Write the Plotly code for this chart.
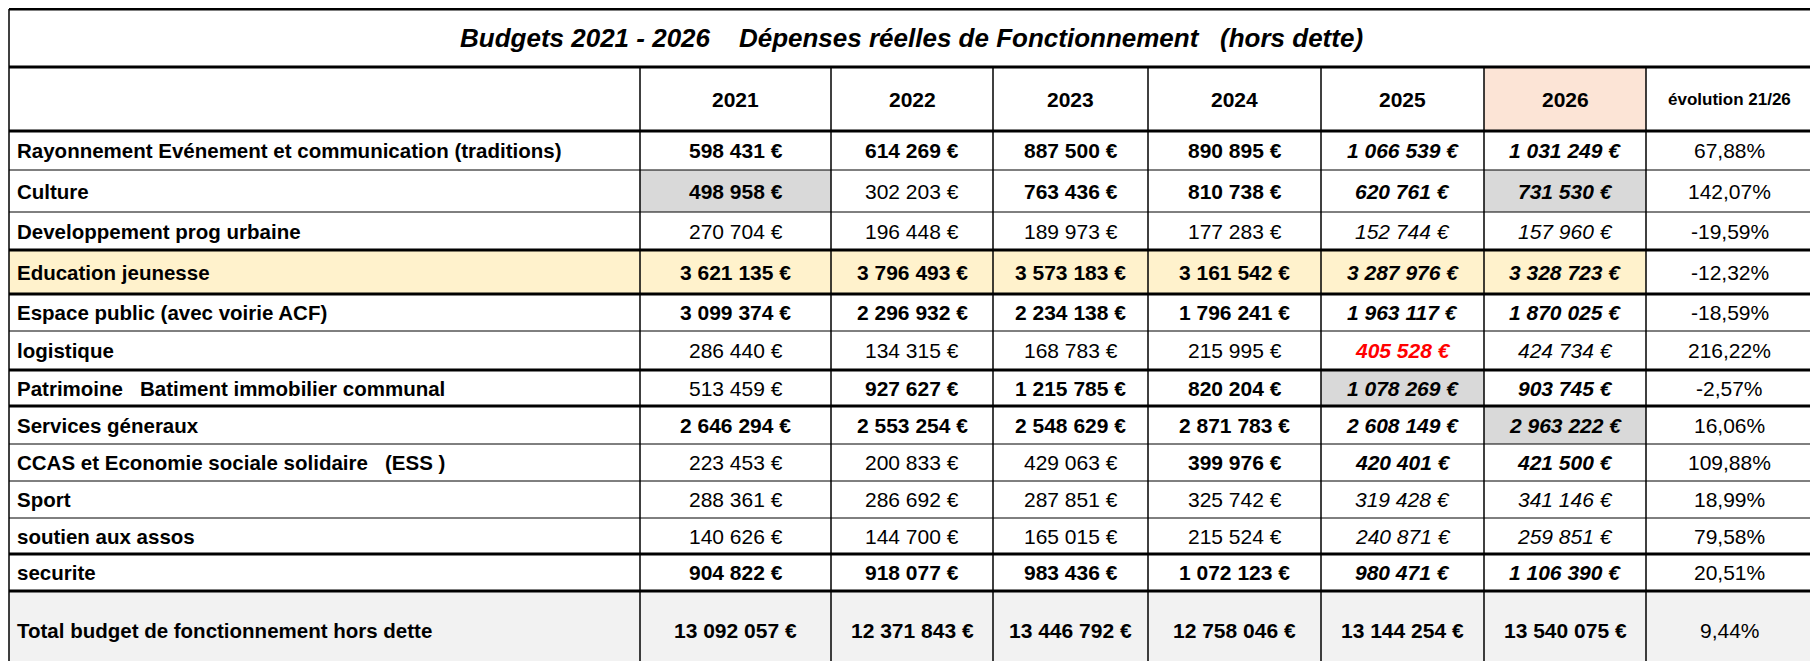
import plotly.graph_objects as go

# table content
title = "Budgets 2021 - 2026    Dépenses réelles de Fonctionnement   (hors dette)"
years = ["2021", "2022", "2023", "2024", "2025", "2026"]
evo_header = "évolution 21/26"
labels = [
    "Rayonnement Evénement et communication (traditions)",
    "Culture",
    "Developpement prog urbaine",
    "Education jeunesse",
    "Espace public (avec voirie ACF)",
    "logistique",
    "Patrimoine   Batiment immobilier communal",
    "Services géneraux",
    "CCAS et Economie sociale solidaire   (ESS )",
    "Sport",
    "soutien aux assos",
    "securite",
    "Total budget de fonctionnement hors dette",
]
values = [
    [598431, 614269, 887500, 890895, 1066539, 1031249],
    [498958, 302203, 763436, 810738, 620761, 731530],
    [270704, 196448, 189973, 177283, 152744, 157960],
    [3621135, 3796493, 3573183, 3161542, 3287976, 3328723],
    [3099374, 2296932, 2234138, 1796241, 1963117, 1870025],
    [286440, 134315, 168783, 215995, 405528, 424734],
    [513459, 927627, 1215785, 820204, 1078269, 903745],
    [2646294, 2553254, 2548629, 2871783, 2608149, 2963222],
    [223453, 200833, 429063, 399976, 420401, 421500],
    [288361, 286692, 287851, 325742, 319428, 341146],
    [140626, 144700, 165015, 215524, 240871, 259851],
    [904822, 918077, 983436, 1072123, 980471, 1106390],
    [13092057, 12371843, 13446792, 12758046, 13144254, 13540075],
]
evolution = ["67,88%", "142,07%", "-19,59%", "-12,32%", "-18,59%", "216,22%", "-2,57%",
             "16,06%", "109,88%", "18,99%", "79,58%", "20,51%", "9,44%"]

# formatting per cell: n normal, b bold, i italic, I bold italic, R bold italic red
styles = ["bbbbII", "bnbbII", "nnnnii", "bbbbII", "bbbbII", "nnnnRi", "nbbbII",
          "bbbbII", "nnnbII", "nnnnii", "nnnnii", "bbbbII", "bbbbbb"]
grey_cells = [(1, 0), (1, 5), (6, 4), (7, 5)]

# layout geometry (pixels, page has an 8px body margin)
W, H = 1818, 661
col_x = [1, 632, 823, 985, 1140, 1313, 1476, 1638, 1805]
row_y = [1, 59, 123, 162, 204, 242, 286, 323, 362, 398, 436, 473, 510, 546, 583, 661]
thick_rows = [1, 59, 123, 242, 286, 362, 398, 546, 583]

def fmt(v):
    return f"{v:,}".replace(",", " ") + " €"

def styled(text, s):
    if s == "b":
        return f"<b>{text}</b>"
    if s == "i":
        return f"<i>{text}</i>"
    if s in "IR":
        return f"<b><i>{text}</i></b>"
    return text

fig = go.Figure()
shapes, ann = [], []
Y = lambda y: H - y

def rect(x0, x1, y0, y1, color):
    shapes.append(dict(type="rect", x0=x0, x1=x1, y0=Y(y0), y1=Y(y1), fillcolor=color,
                       line_width=0, layer="below"))

def text(x, y, t, size=21, color="black", anchor="center"):
    ann.append(dict(x=x, y=Y(y), text=t, showarrow=False, xanchor=anchor, yanchor="middle",
                    font=dict(size=size, color=color, family="Liberation Sans")))

# fills
edu = labels.index("Education jeunesse")
rect(col_x[0], col_x[7], row_y[edu + 2], row_y[edu + 3], "#FFF2CC")
rect(col_x[0], col_x[8], row_y[-2], row_y[-1], "#F2F2F2")
rect(col_x[6], col_x[7], row_y[1], row_y[2], "#FCE4D6")
for r, c in grey_cells:
    rect(col_x[c + 1], col_x[c + 2], row_y[r + 2], row_y[r + 3], "#D9D9D9")

# grid lines
for y in row_y[:-1]:
    shapes.append(dict(type="line", x0=col_x[0], x1=col_x[-1], y0=Y(y), y1=Y(y),
                       line=dict(color="black", width=3 if y in thick_rows else 1)))
for i, x in enumerate(col_x):
    y0 = row_y[0] if i in (0, len(col_x) - 1) else row_y[1]
    shapes.append(dict(type="line", x0=x, x1=x, y0=Y(y0), y1=Y(H),
                       line=dict(color="black", width=1.5)))

# texts
text((col_x[0] + col_x[-1]) / 2, (row_y[0] + row_y[1]) / 2, f"<b><i>{title}</i></b>", size=26)
for c, yr in enumerate(years):
    text((col_x[c + 1] + col_x[c + 2]) / 2, (row_y[1] + row_y[2]) / 2, f"<b>{yr}</b>", size=21)
text((col_x[7] + col_x[8]) / 2, (row_y[1] + row_y[2]) / 2, f"<b>{evo_header}</b>", size=17)
for r, lab in enumerate(labels):
    yc = (row_y[r + 2] + row_y[r + 3]) / 2
    text(col_x[0] + 6, yc, f"<b>{lab}</b>", size=20.5, anchor="left")
    for c, v in enumerate(values[r]):
        s = styles[r][c]
        text((col_x[c + 1] + col_x[c + 2]) / 2, yc, styled(fmt(v), s),
             color="#FF0000" if s == "R" else "black")
    text((col_x[7] + col_x[8]) / 2, yc, evolution[r])

fig.update_layout(
    width=W, height=H, margin=dict(l=0, r=0, t=0, b=0),
    plot_bgcolor="white", paper_bgcolor="white", showlegend=False,
    xaxis=dict(range=[0, W], visible=False, fixedrange=True),
    yaxis=dict(range=[0, H], visible=False, fixedrange=True),
    shapes=shapes, annotations=ann,
)
fig.write_html("out.html")
